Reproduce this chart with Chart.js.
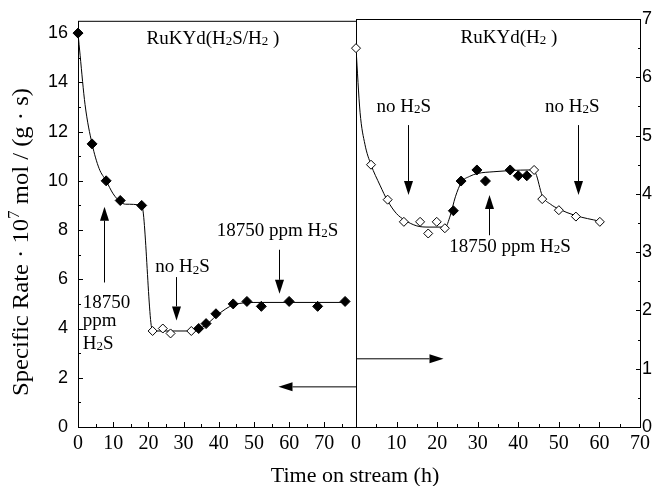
<!DOCTYPE html>
<html>
<head>
<meta charset="utf-8">
<script src="https://cdn.jsdelivr.net/npm/chart.js@4.4.0/dist/chart.umd.min.js"></script>
<style>
body{margin:0;background:#fff;}
#wrap{position:relative;width:658px;height:486px;overflow:hidden;}
#left{position:absolute;left:0;top:0;}
#right{position:absolute;left:340px;top:0;}
#xtitle{position:absolute;left:0;width:710px;top:462px;line-height:22px;text-align:center;
  font:22px "Liberation Serif","Times New Roman",serif;color:#000;}
</style>
</head>
<body>
<div id="wrap">
<canvas id="left" width="357" height="486"></canvas>
<canvas id="right" width="318" height="486"></canvas>
<div id="xtitle">Time on stream (h)</div>
</div>
<script>
// RuKYd(H2S/H2) run: time on stream (h) and specific rate (1e-7 mol/(g s))
const sulfTime = [0, 4, 8, 12, 18.1, 34.3, 36.4, 39.2, 44.1, 48, 52.1, 60, 68.1, 75.9];
const sulfRate = [16, 11.5, 10, 9.2, 9.0, 4.0, 4.2, 4.6, 5.0, 5.1, 4.9, 5.1, 4.9, 5.1];
const sulfFreeTime = [21.2, 24.1, 26.3, 32.2];
const sulfFreeRate = [3.9, 4.0, 3.8, 3.9];
const sulfFitTime = [0, 0.6, 2, 4, 6, 8, 10, 12, 13.5, 18.1, 21.2, 26, 33, 34.3, 36.4, 39.2, 42, 44, 48, 52, 60, 76];
const sulfFitRate = [16, 15.1, 13.1, 11.5, 10.5, 10, 9.47, 9.15, 9.05, 9.0, 3.9, 3.9, 3.9, 3.98, 4.15, 4.5, 4.8, 4.95, 5.05, 5.06, 5.06, 5.06];

// RuKYd(H2) run
const redTime = [24, 25.9, 29.8, 31.9, 38, 40, 42.1];
const redRate = [3.71, 4.22, 4.41, 4.22, 4.41, 4.31, 4.31];
const redFreeTime = [0, 3.7, 7.8, 11.8, 15.8, 17.8, 19.9, 21.9, 43.9, 45.9, 50, 54.2, 60.1];
const redFreeRate = [6.5, 4.5, 3.9, 3.52, 3.52, 3.32, 3.52, 3.41, 4.41, 3.91, 3.72, 3.61, 3.52];
const redFitTime = [0, 1, 2.2, 3.7, 5.9, 7.8, 10, 12, 15, 18, 22, 23.2, 24.5, 26, 28, 30, 34, 38, 43, 44.3, 45.9, 48, 50, 54, 60.1];
const redFitRate = [6.5, 5.4, 4.85, 4.5, 4.15, 3.88, 3.66, 3.55, 3.45, 3.43, 3.43, 3.62, 3.95, 4.2, 4.3, 4.35, 4.38, 4.4, 4.41, 4.35, 3.97, 3.82, 3.74, 3.63, 3.53];

// tick labels
const timeLabels = [0, 10, 20, 30, 40, 50, 60, 70];
const leftRateLabels = [0, 2, 4, 6, 8, 10, 12, 14, 16];
const rightRateLabels = [0, 1, 2, 3, 4, 5, 6, 7];

const SERIF = '"Liberation Serif", "Times New Roman", serif';
const SANS = '"Liberation Sans", Arial, sans-serif';

// annotations, in data units of each panel
const notes = {
  left: [
    {text: 'RuKYd(H_2S/H_2 )', x: 38.35, y: 15.56},
    {text: '18750', x: 1.33, y: 4.83, align: 'left'},
    {text: 'ppm', x: 1.33, y: 4.09, align: 'left'},
    {text: 'H_2S', x: 1.33, y: 3.18, align: 'left'},
    {text: 'no H_2S', x: 29.7, y: 6.29},
    {text: '18750 ppm H_2S', x: 56.7, y: 7.77},
    {arrow: [7.3, 5.87, 7.3, 8.95]},
    {arrow: [27.8, 6.09, 27.8, 4.33]},
    {arrow: [57.2, 7.2, 57.2, 5.41]},
    {arrow: [79, 1.63, 56.9, 1.63]}
  ],
  right: [
    {text: 'RuKYd(H_2 )', x: 37.7, y: 6.59},
    {text: 'no H_2S', x: 11.8, y: 5.41},
    {text: 'no H_2S', x: 53.3, y: 5.41},
    {text: '18750 ppm H_2S', x: 37.96, y: 3.01},
    {arrow: [12.75, 5.18, 12.75, 3.98]},
    {arrow: [54.8, 5.18, 54.8, 3.98]},
    {arrow: [32.9, 3.29, 32.9, 3.98]},
    {arrow: [0, 1.17, 21.5, 1.17]}
  ]
};

function pts(xs, ys) {
  return xs.map((x, i) => ({x: x, y: ys[i]}));
}

// "_2" gives a subscript, "^7" a superscript
function richParts(str) {
  const parts = [];
  for (let i = 0; i < str.length; i++) {
    const c = str[i];
    if ((c === '_' || c === '^') && i + 1 < str.length) {
      parts.push({t: str[i + 1], k: c});
      i++;
    } else if (parts.length && parts[parts.length - 1].k === '') {
      parts[parts.length - 1].t += c;
    } else {
      parts.push({t: c, k: ''});
    }
  }
  return parts;
}

function drawRich(ctx, str, x, y, size, align) {
  const parts = richParts(str);
  const fontOf = p => (p.k ? Math.round(size * 0.7) : size) + 'px ' + SERIF;
  const widths = parts.map(p => { ctx.font = fontOf(p); return ctx.measureText(p.t).width; });
  const total = widths.reduce((a, b) => a + b, 0);
  let cx = align === 'left' ? x : (align === 'right' ? x - total : x - total / 2);
  ctx.textAlign = 'left';
  ctx.textBaseline = 'alphabetic';
  parts.forEach((p, i) => {
    ctx.font = fontOf(p);
    const dy = p.k === '_' ? size * 0.08 : (p.k === '^' ? -size * 0.4 : 0);
    ctx.fillText(p.t, cx, y + dy);
    cx += widths[i];
  });
}

function arrow(ctx, x1, y1, x2, y2) {
  const ang = Math.atan2(y2 - y1, x2 - x1);
  const len = 14, half = 4.5;
  ctx.beginPath();
  ctx.moveTo(x1, y1);
  ctx.lineTo(x2 - Math.cos(ang) * len, y2 - Math.sin(ang) * len);
  ctx.stroke();
  ctx.beginPath();
  ctx.moveTo(x2, y2);
  ctx.lineTo(x2 - Math.cos(ang) * len - Math.sin(ang) * half, y2 - Math.sin(ang) * len + Math.cos(ang) * half);
  ctx.lineTo(x2 - Math.cos(ang) * len + Math.sin(ang) * half, y2 - Math.sin(ang) * len - Math.cos(ang) * half);
  ctx.closePath();
  ctx.fill();
}

const framePlugin = {
  id: 'frame',
  beforeDatasetsDraw(chart) {
    const ctx = chart.ctx, a = chart.chartArea;
    ctx.save();
    ctx.strokeStyle = '#000';
    ctx.lineWidth = 1;
    ctx.strokeRect(a.left + 0.5, a.top + 0.5, a.right - a.left, a.bottom - a.top);
    // tick marks point into the plot
    ctx.beginPath();
    Object.values(chart.scales).forEach(s => {
      s.ticks.forEach(t => {
        const len = t.label === '' ? 3 : 5;
        const p = Math.round(s.getPixelForValue(t.value)) + 0.5;
        if (s.axis === 'x') {
          ctx.moveTo(p, a.bottom); ctx.lineTo(p, a.bottom - len);
        } else if (s.position === 'left') {
          ctx.moveTo(a.left, p); ctx.lineTo(a.left + len, p);
        } else {
          ctx.moveTo(a.right + 1, p); ctx.lineTo(a.right + 1 - len, p);
        }
      });
    });
    ctx.stroke();
    ctx.restore();
  },
  afterDraw(chart) {
    const ctx = chart.ctx, xs = chart.scales.x, ys = chart.scales.y;
    ctx.save();
    ctx.fillStyle = '#000';
    ctx.strokeStyle = '#000';
    ctx.lineWidth = 1;
    (notes[chart.canvas.id] || []).forEach(n => {
      if (n.arrow) {
        const [x1, y1, x2, y2] = n.arrow;
        arrow(ctx, Math.round(xs.getPixelForValue(x1)) + 0.5, ys.getPixelForValue(y1),
          Math.round(xs.getPixelForValue(x2)) + 0.5, ys.getPixelForValue(y2));
      } else {
        drawRich(ctx, n.text, xs.getPixelForValue(n.x), ys.getPixelForValue(n.y), 19, n.align || 'center');
      }
    });
    if (chart.canvas.id === 'left') {
      // rate axis title, read bottom to top
      ctx.translate(28, 242);
      ctx.rotate(-Math.PI / 2);
      ctx.scale(1.07, 1);
      drawRich(ctx, 'Specific Rate \u00b7 10^7 mol / (g \u00b7 s)', 0, 0, 23, 'center');
    }
    ctx.restore();
  }
};

function panel(id, opts) {
  return new Chart(document.getElementById(id), {
    type: 'scatter',
    data: {
      datasets: [
        {data: pts(opts.fullT, opts.fullV), pointStyle: 'rectRot', pointRadius: 5,
          backgroundColor: '#000', borderColor: '#000', borderWidth: 1, clip: false},
        {data: pts(opts.openT, opts.openV), pointStyle: 'rectRot', pointRadius: 4.5,
          backgroundColor: '#fff', borderColor: '#000', borderWidth: 1, clip: false},
        {data: pts(opts.fitT, opts.fitV), showLine: true, pointRadius: 0, borderColor: '#000',
          borderWidth: 1, cubicInterpolationMode: 'monotone', fill: false}
      ]
    },
    options: {
      responsive: false,
      animation: false,
      devicePixelRatio: 1,
      layout: {autoPadding: false, padding: opts.padding},
      plugins: {legend: {display: false}, tooltip: {enabled: false}},
      scales: {
        x: {
          type: 'linear', min: 0, max: opts.xMax,
          grid: {display: false, drawTicks: false}, border: {display: false},
          afterFit: s => { s.height = 59; },
          ticks: {
            stepSize: 5, includeBounds: false, autoSkip: false, maxRotation: 0, padding: 5,
            color: '#000', font: {family: SERIF, size: 20},
            callback: v => timeLabels.includes(v) ? v : ''
          }
        },
        y: {
          type: 'linear', min: 0, max: opts.yMax, position: opts.yPos,
          grid: {display: false, drawTicks: false}, border: {display: false},
          afterFit: s => { s.width = opts.yWidth; },
          ticks: {
            stepSize: opts.yStep, includeBounds: false, autoSkip: false, padding: opts.yPad,
            color: '#000', font: {family: SANS, size: 18},
            callback: v => opts.yLabels.includes(v) ? v : ''
          }
        }
      }
    },
    plugins: [framePlugin]
  });
}

panel('left', {
  fullT: sulfTime, fullV: sulfRate, openT: sulfFreeTime, openV: sulfFreeRate,
  fitT: sulfFitTime, fitV: sulfFitRate,
  xMax: 79, yMax: 16.5, yStep: 1, yLabels: leftRateLabels, yPos: 'left',
  yWidth: 78, yPad: 10, padding: {left: 0, right: 1, top: 19, bottom: 0}
});

panel('right', {
  fullT: redTime, fullV: redRate, openT: redFreeTime, openV: redFreeRate,
  fitT: redFitTime, fitV: redFitRate,
  xMax: 70, yMax: 7, yStep: 0.5, yLabels: rightRateLabels, yPos: 'right',
  yWidth: 18, yPad: 2, padding: {left: 16, right: 0, top: 19, bottom: 0}
});
</script>
</body>
</html>
